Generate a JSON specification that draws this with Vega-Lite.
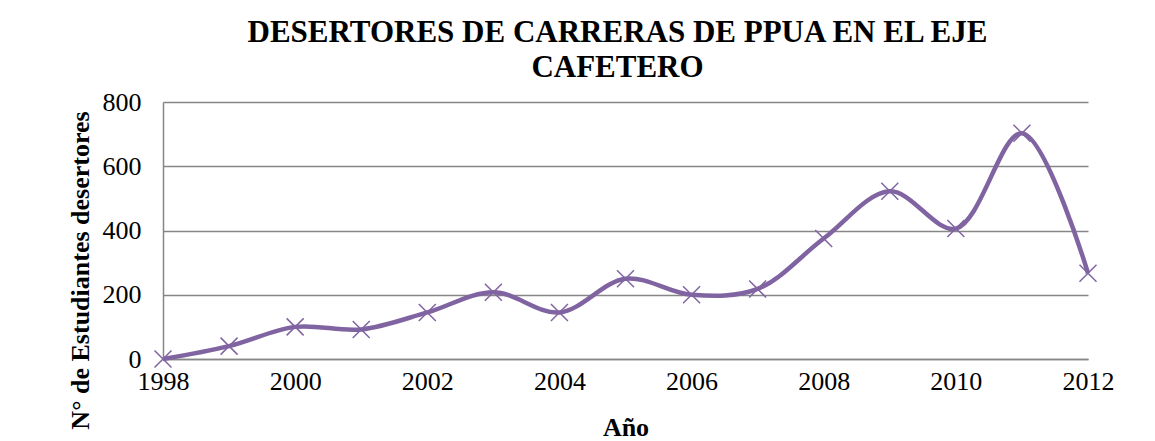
{
  "$schema": "https://vega.github.io/schema/vega-lite/v6.json",
  "width": 925,
  "height": 257,
  "autosize": {"type": "none"},
  "padding": {"left": 163, "top": 102, "right": 67, "bottom": 82},
  "background": "white",
  "title": {
    "text": ["DESERTORES DE CARRERAS DE PPUA EN EL EJE", "CAFETERO"],
    "font": "Liberation Serif",
    "fontSize": 31,
    "fontWeight": "bold",
    "color": "black",
    "anchor": "middle",
    "frame": "group",
    "lineHeight": 35,
    "offset": 5,
    "dx": -8
  },
  "config": {
    "view": {"stroke": null},
    "axis": {
      "labelFont": "Liberation Serif",
      "titleFont": "Liberation Serif",
      "labelColor": "black",
      "titleColor": "black",
      "labelFontSize": 26,
      "titleFontSize": 26,
      "titleFontWeight": "bold",
      "gridColor": "#868686",
      "gridWidth": 1.5,
      "domainColor": "#868686",
      "domainWidth": 1.5,
      "ticks": false
    }
  },
  "data": {
    "values": [
      {"anio": 1998, "desertores": 0},
      {"anio": 1999, "desertores": 40},
      {"anio": 2000, "desertores": 100},
      {"anio": 2001, "desertores": 92},
      {"anio": 2002, "desertores": 145},
      {"anio": 2003, "desertores": 208},
      {"anio": 2004, "desertores": 145},
      {"anio": 2005, "desertores": 250},
      {"anio": 2006, "desertores": 200},
      {"anio": 2007, "desertores": 218},
      {"anio": 2008, "desertores": 375},
      {"anio": 2009, "desertores": 522},
      {"anio": 2010, "desertores": 406},
      {"anio": 2011, "desertores": 703},
      {"anio": 2012, "desertores": 267}
    ]
  },
  "encoding": {
    "x": {
      "field": "anio",
      "type": "quantitative",
      "scale": {"domain": [1998, 2012], "nice": false, "zero": false},
      "axis": {
        "title": "Año",
        "values": [1998, 2000, 2002, 2004, 2006, 2008, 2010, 2012],
        "format": "d",
        "grid": false,
        "labelPadding": 9,
        "labelFlush": false,
        "titleY": 76,
        "titleBaseline": "alphabetic"
      }
    },
    "y": {
      "field": "desertores",
      "type": "quantitative",
      "scale": {"domain": [0, 800], "nice": false},
      "axis": {
        "title": "N° de Estudiantes desertores",
        "values": [0, 200, 400, 600, 800],
        "grid": true,
        "labelPadding": 22,
        "titleAngle": -90,
        "titleAlign": "center",
        "titleBaseline": "middle",
        "titleX": -83,
        "titleY": 168
      }
    }
  },
  "layer": [
    {
      "mark": {
        "type": "line",
        "color": "#8064A2",
        "strokeWidth": 4.5,
        "interpolate": "catmull-rom",
        "clip": false
      }
    },
    {
      "mark": {
        "type": "point",
        "shape": "M-1,-1L1,1M1,-1L-1,1",
        "filled": false,
        "stroke": "#8064A2",
        "strokeWidth": 1.5,
        "size": 289,
        "opacity": 1,
        "clip": false
      }
    }
  ]
}
